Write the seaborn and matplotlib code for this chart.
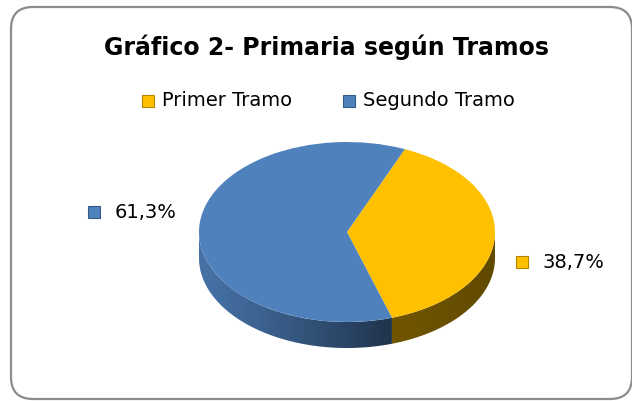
import numpy as np
import matplotlib
matplotlib.use("Agg")
import matplotlib.pyplot as plt
import seaborn as sns
from matplotlib.patches import FancyBboxPatch, Polygon, Rectangle

# data
categories = ["Primer Tramo", "Segundo Tramo"]
values = [38.7, 61.3]
labels = ["38,7%", "61,3%"]
top_colors = ["#ffc000", "#4f81bd"]

sns.set_theme(style="white")
plt.rcParams["font.family"] = ["DejaVu Sans"]

W, H = 632, 401
fig = plt.figure(figsize=(W / 100, H / 100), dpi=100)

# background axes in pixel coordinates
bg = fig.add_axes([0, 0, 1, 1])
bg.set_xlim(0, W)
bg.set_ylim(H, 0)
bg.axis("off")
bg.add_patch(FancyBboxPatch((11, 7), 621, 392, boxstyle="round,pad=0,rounding_size=22",
                            fc="white", ec="#8c8c8c", lw=1.6))

# pie axes: unit circle maps to ellipse with a=148px, b=90px
cx, cy, a, b = 347, 232, 148, 90
depth = 26 / b
left = (cx - a) / W
width = 2 * a / W
ylo, yhi = -1 - depth - 0.05, 1.0
bottom = (H - (cy + b * -ylo)) / H
height = b * (yhi - ylo) / H
ax = fig.add_axes([left, bottom, width, height])

startangle = 67
wedges, _ = ax.pie(values, colors=top_colors, startangle=startangle, counterclock=False,
                   radius=1, wedgeprops=dict(lw=0), center=(0, 0), frame=False)
ax.set_aspect("auto")
ax.set_xlim(-1, 1)
ax.set_ylim(ylo, yhi)
ax.axis("off")
for w in wedges:
    w.set_zorder(5)

# side of the pie (front half only), built from wedge angles
angles = [startangle]
for v in values:
    angles.append(angles[-1] - v / sum(values) * 360)

def shade(c, f):
    c = np.array(matplotlib.colors.to_rgb(c))
    return np.clip(c * f, 0, 1)

# side shading factors (left -> right of each visible side)
side_shade = [(0.44, 0.38), (0.88, 0.40)]

for i, (a0, a1) in enumerate(zip(angles[:-1], angles[1:])):
    t = np.linspace(a1, a0, 800)
    tm = np.mod(t, 360)
    vis = (tm >= 180) & (tm <= 360)
    if not vis.any():
        continue
    th = np.radians(np.sort(tm[vis]))
    xs, ys = np.cos(th), np.sin(th)
    poly = np.concatenate([np.c_[xs, ys], np.c_[xs[::-1], ys[::-1] - depth]])
    patch = Polygon(poly, closed=True, fc="none", ec="none", zorder=2)
    ax.add_patch(patch)
    f0, f1 = side_shade[i]
    g = np.linspace(0, 1, 256)
    fac = f0 + (f1 - f0) * g ** 1.2
    img = np.array([shade(top_colors[i], f) for f in fac])[None, :, :]
    im = ax.imshow(img, extent=[xs.min(), xs.max(), ys.min() - depth, ys.max()],
                   aspect="auto", zorder=2, interpolation="bilinear")
    im.set_clip_path(patch)

ax.set_xlim(-1, 1)
ax.set_ylim(ylo, yhi)

# legend
fs = 14
leg_y = 101
for x0, name, c in [(142, categories[0], top_colors[0]), (343, categories[1], top_colors[1])]:
    bg.add_patch(Rectangle((x0, leg_y - 6), 12, 12, fc=c, ec=shade(c, 0.7), lw=0.8))
    bg.text(x0 + 20, leg_y, name, fontsize=fs, va="center", ha="left", color="black")

# title
bg.text(326, 47, "Gráfico 2- Primaria según Tramos", fontsize=17, fontweight="bold",
        ha="center", va="center", color="black")

# data labels
for (sx, ty), lab, c in [((516, 262), labels[0], top_colors[0]), ((88, 212), labels[1], top_colors[1])]:
    bg.add_patch(Rectangle((sx, ty - 6), 12, 12, fc=c, ec=shade(c, 0.7), lw=0.8))
    bg.text(sx + 27, ty, lab, fontsize=fs, va="center", ha="left", color="black")

fig.savefig("out.png", dpi=100)
